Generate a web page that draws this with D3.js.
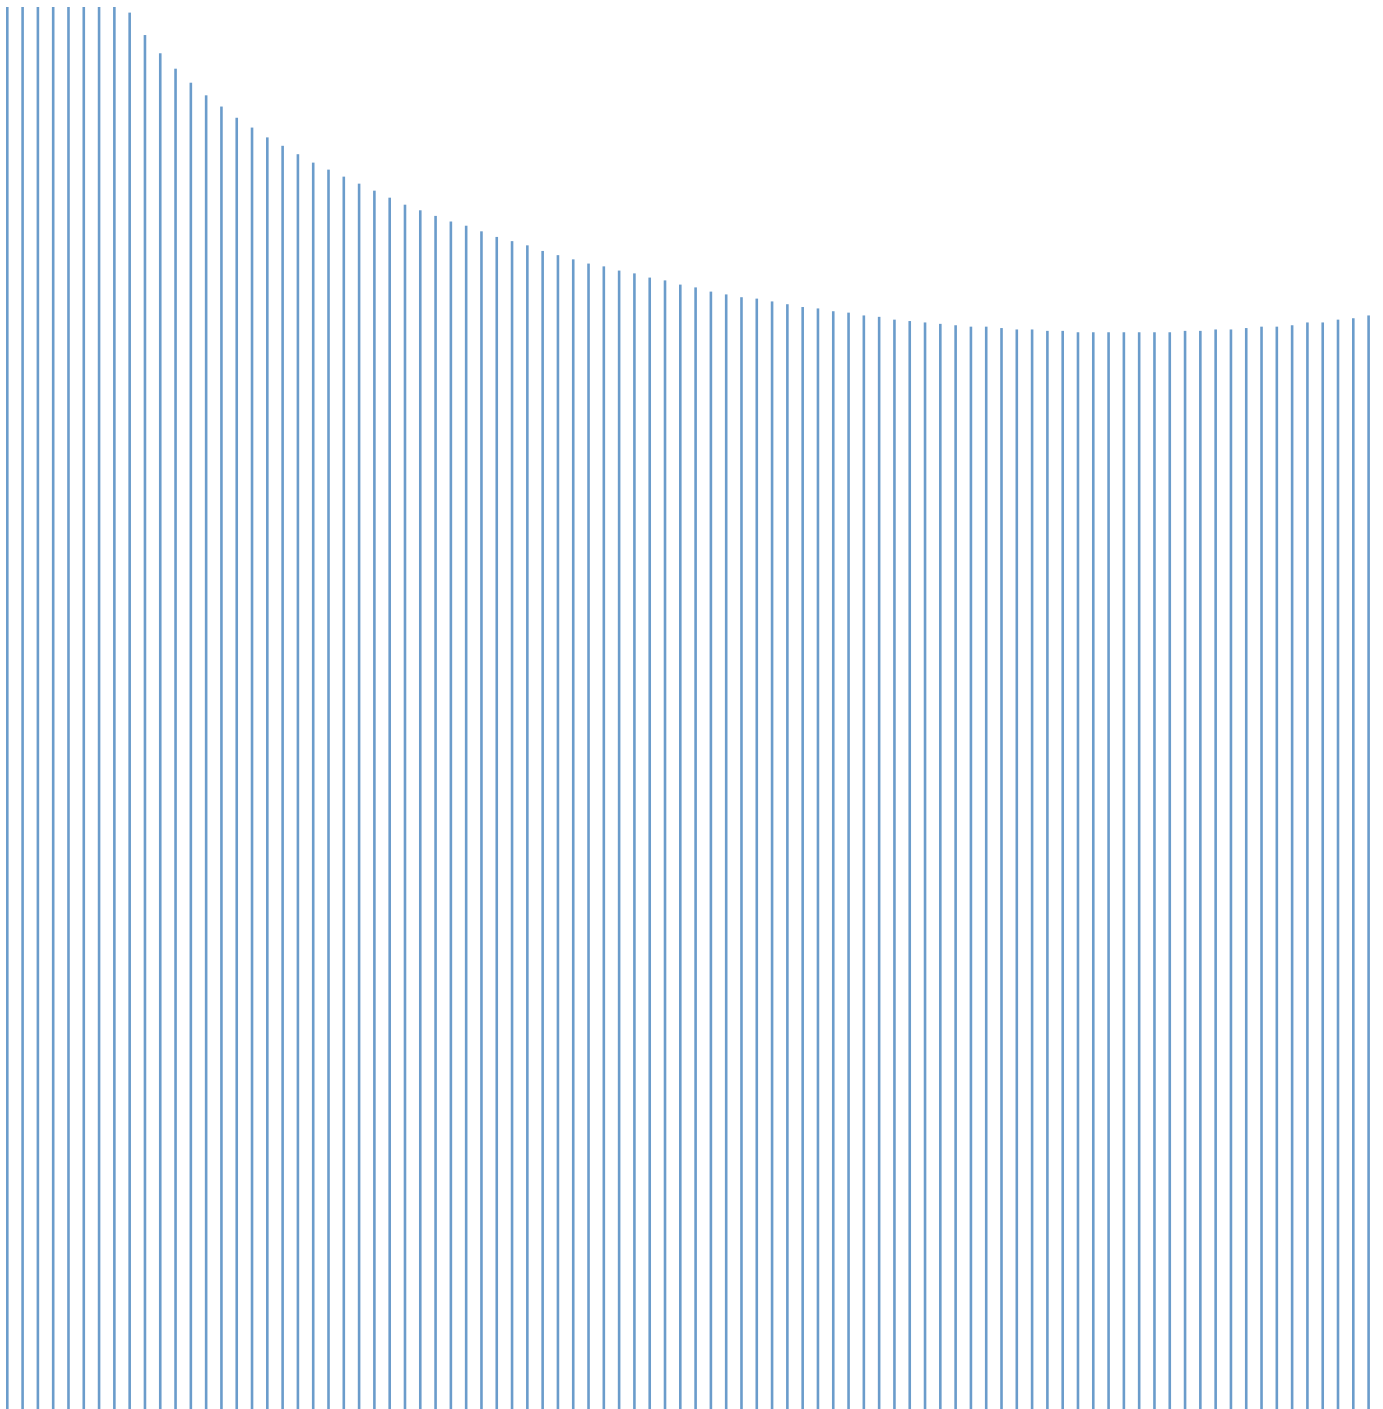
<!DOCTYPE html>
<html>
<head>
<meta charset="utf-8">
<script src="https://cdn.jsdelivr.net/npm/d3@7"></script>
<style>
  html, body { margin: 0; padding: 0; background: #fff; overflow: hidden; }
</style>
</head>
<body>
<svg id="chart"></svg>
<script>
// bar values (tallest bars are cut at the top)
const values = [
  100, 100, 100, 100, 100, 100, 100, 100, 99.6, 98.0,
  96.7, 95.6, 94.6, 93.7, 92.9, 92.1, 91.4, 90.7, 90.1, 89.5,
  88.9, 88.4, 87.9, 87.4, 86.9, 86.4, 85.9, 85.5, 85.1, 84.7,
  84.4, 84.0, 83.6, 83.3, 83.0, 82.6, 82.3, 82.0, 81.7, 81.5,
  81.2, 81.0, 80.7, 80.5, 80.2, 80.0, 79.7, 79.5, 79.3, 79.2,
  79.0, 78.8, 78.6, 78.5, 78.3, 78.2, 78.0, 77.9, 77.7, 77.6,
  77.5, 77.4, 77.3, 77.2, 77.2, 77.1, 77.0, 77.0, 76.9, 76.9,
  76.8, 76.8, 76.8, 76.8, 76.8, 76.8, 76.8, 76.9, 76.9, 77.0,
  77.0, 77.1, 77.2, 77.2, 77.3, 77.5, 77.5, 77.7, 77.8, 78.0
];
const categories = values.map((d, i) => i);

const width = 1383;
const height = 1409;

const svg = d3.select('#chart')
  .attr('width', width)
  .attr('height', height);

// Scales
const xScale = d3.scalePoint()
  .domain(categories)
  .range([7.3, 1368.6]);

const yScale = d3.scaleLinear()
  .domain([0, 100])
  .range([height, 7]);

const barWidth = 2.6;

// Bars
svg.selectAll('.bar')
  .data(values)
  .enter()
  .append('rect')
  .attr('class', 'bar')
  .attr('x', (d, i) => xScale(i) - barWidth / 2)
  .attr('y', d => yScale(d))
  .attr('width', barWidth)
  .attr('height', d => height - yScale(d))
  .attr('fill', '#6b9ccb');
</script>
</body>
</html>
